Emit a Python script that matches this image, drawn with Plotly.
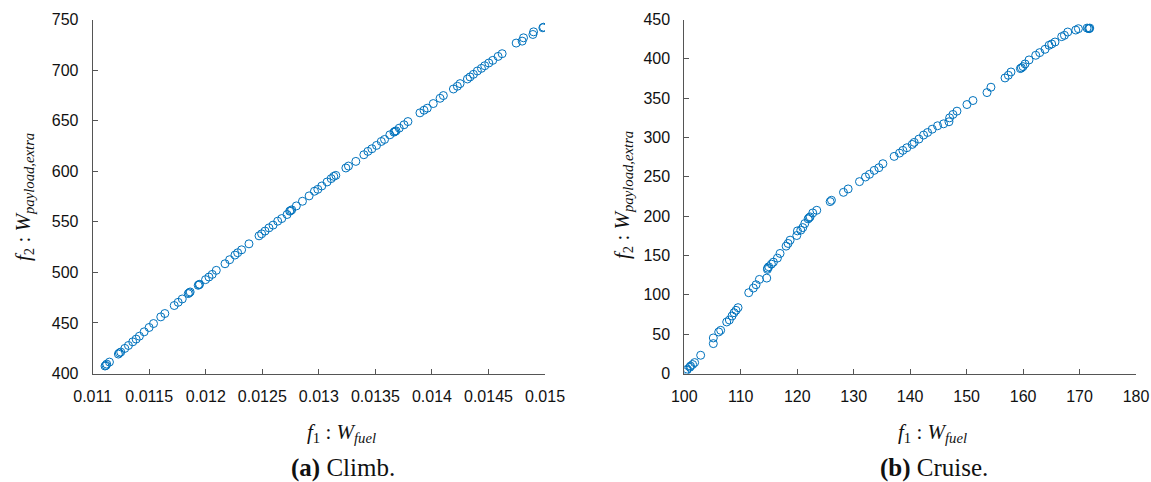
import plotly.graph_objects as go

# ---------------- data ----------------
climb_fuel = [
    0.011109, 0.011118, 0.011124, 0.011148, 0.011227, 0.011236, 0.011248, 0.011284,
    0.011316, 0.011354, 0.011384, 0.011413, 0.011455, 0.011499, 0.011538, 0.011602,
    0.011638, 0.011721, 0.011756, 0.011792, 0.011845, 0.011854, 0.011862, 0.011933,
    0.011940, 0.011945, 0.011998, 0.012028, 0.012057, 0.012093, 0.012170, 0.012211,
    0.012258, 0.012282, 0.012317, 0.012382, 0.012471, 0.012494, 0.012524, 0.012559,
    0.012595, 0.012636, 0.012672, 0.012719, 0.012742, 0.012750, 0.012760, 0.012801,
    0.012855, 0.012914, 0.012961, 0.012991, 0.013026, 0.013073, 0.013109, 0.013132,
    0.013150, 0.013239, 0.013262, 0.013327, 0.013398, 0.013434, 0.013469, 0.013510,
    0.013552, 0.013581, 0.013628, 0.013664, 0.013672, 0.013682, 0.013711, 0.013753,
    0.013788, 0.013894, 0.013930, 0.013959, 0.014012, 0.014072, 0.014101, 0.014190,
    0.014225, 0.014249, 0.014314, 0.014337, 0.014367, 0.014402, 0.014438, 0.014467,
    0.014503, 0.014538, 0.014585, 0.014621, 0.014745, 0.014798, 0.014810, 0.014893,
    0.014899, 0.014981, 0.014987,
]
climb_payload = [
    407.4, 408.0, 409.3, 411.3, 419.2, 420.3, 421.2, 424.8,
    427.7, 431.3, 434.0, 436.9, 441.2, 445.5, 449.4, 456.0,
    459.3, 467.2, 470.4, 473.7, 479.0, 479.8, 480.6, 487.2,
    487.8, 488.2, 492.8, 495.4, 498.0, 502.0, 508.5, 512.5,
    517.1, 519.4, 522.3, 528.2, 536.1, 538.1, 540.8, 544.0,
    546.7, 550.6, 553.2, 557.2, 560.5, 561.0, 561.8, 565.7,
    570.3, 575.6, 580.2, 582.1, 585.4, 589.4, 592.7, 594.9,
    595.9, 603.2, 605.1, 609.7, 616.3, 619.6, 622.2, 625.5,
    629.4, 631.4, 636.0, 638.6, 639.3, 639.9, 642.6, 645.9,
    649.1, 657.7, 660.3, 662.3, 666.9, 672.1, 674.8, 681.3,
    684.0, 686.6, 691.2, 693.2, 695.8, 699.1, 701.7, 704.3,
    707.0, 709.6, 713.5, 716.2, 726.7, 728.6, 731.9, 735.2,
    737.8, 741.8, 742.4,
]

cruise_fuel = [
    100.06, 100.45, 100.53, 101.00, 101.10, 101.48, 101.83, 102.90, 105.14, 105.14,
    106.09, 106.44, 107.51, 107.98, 108.45, 108.81, 109.16, 109.52, 111.41, 112.23,
    112.71, 113.30, 114.60, 114.72, 114.75, 114.95, 115.43, 115.78, 116.49, 116.96,
    118.03, 118.38, 118.74, 119.92, 120.04, 120.63, 120.98, 121.34, 121.93, 122.10,
    122.28, 122.75, 123.46, 125.83, 126.06, 128.19, 129.02, 131.03, 132.09, 132.80,
    133.63, 134.46, 135.17, 137.17, 138.12, 138.71, 139.42, 140.37, 140.72, 141.55,
    142.38, 143.09, 143.91, 144.86, 145.92, 146.87, 146.99, 147.58, 148.29, 150.06,
    151.12, 153.61, 154.31, 156.80, 157.39, 157.86, 159.52, 159.70, 159.99, 160.35,
    161.06, 162.24, 162.95, 163.89, 164.60, 165.07, 165.66, 166.84, 167.32, 167.91,
    169.33, 169.80, 171.34, 171.60, 171.69, 171.81,
]
cruise_payload = [
    1.3, 4.2, 5.5, 8.0, 9.5, 11.4, 13.9, 23.2, 38.0, 45.2,
    52.8, 54.9, 65.5, 68.0, 73.1, 77.3, 80.3, 83.7, 102.7, 108.6,
    112.8, 119.6, 121.3, 132.3, 134.0, 135.7, 139.0, 141.6, 146.7, 152.6,
    161.9, 165.3, 169.5, 175.4, 181.3, 182.2, 185.5, 190.6, 196.5, 198.0,
    199.1, 204.1, 207.5, 218.5, 220.2, 230.3, 234.6, 243.9, 249.8, 253.2,
    258.2, 261.6, 266.7, 276.0, 280.2, 283.6, 287.0, 291.2, 293.8, 298.0,
    303.1, 306.4, 310.6, 314.9, 317.4, 320.0, 325.0, 329.3, 333.5, 341.9,
    347.0, 357.1, 363.9, 375.7, 379.1, 383.3, 387.6, 388.5, 390.1, 393.5,
    398.6, 404.5, 407.9, 412.1, 417.2, 418.9, 421.4, 428.2, 429.9, 434.1,
    436.6, 438.3, 439.1, 438.6, 438.3, 439.1,
]

climb_xticks = [0.011, 0.0115, 0.012, 0.0125, 0.013, 0.0135, 0.014, 0.0145, 0.015]
climb_xticklabels = ["0.011", "0.0115", "0.012", "0.0125", "0.013", "0.0135", "0.014", "0.0145", "0.015"]
climb_yticks = [400, 450, 500, 550, 600, 650, 700, 750]
cruise_xticks = [100, 110, 120, 130, 140, 150, 160, 170, 180]
cruise_yticks = [0, 50, 100, 150, 200, 250, 300, 350, 400, 450]

# ---------------- figure ----------------
W, H = 1151, 482
BLUE = "#0072BD"
AXC = "#555555"
TICKFONT = dict(family="Liberation Sans, Arial, sans-serif", size=16, color="#111111")
SERIF = "Liberation Serif, Times New Roman, serif"

def px_x(p):
    return p / W

def px_y(p):
    return 1 - p / H

marker = dict(symbol="circle-open", size=8, color=BLUE, line=dict(width=1, color=BLUE))

fig = go.Figure()
fig.add_trace(go.Scatter(x=climb_fuel, y=climb_payload, mode="markers", marker=marker,
                         xaxis="x", yaxis="y", showlegend=False))
fig.add_trace(go.Scatter(x=cruise_fuel, y=cruise_payload, mode="markers", marker=marker,
                         xaxis="x2", yaxis="y2", showlegend=False))

common = dict(showgrid=False, zeroline=False, showline=True, linecolor=AXC, linewidth=1,
              ticks="inside", ticklen=5, tickcolor=AXC, tickwidth=1, tickfont=TICKFONT,
              mirror=False, automargin=False)

ydom = [px_y(373.5), px_y(19.5)]

fig.update_layout(
    width=W, height=H,
    margin=dict(l=0, r=0, t=0, b=0, pad=0),
    paper_bgcolor="white", plot_bgcolor="white",
    xaxis=dict(domain=[px_x(92.7), px_x(545.0)], range=[0.011, 0.015],
               tickvals=climb_xticks, ticktext=climb_xticklabels, anchor="y",
               ticklabelstandoff=8, **common),
    yaxis=dict(domain=ydom, range=[400, 750], tickvals=climb_yticks, anchor="x",
               ticklabelstandoff=10, **common),
    xaxis2=dict(domain=[px_x(684.3), px_x(1136.0)], range=[100, 180],
                tickvals=cruise_xticks, anchor="y2", ticklabelstandoff=8, **common),
    yaxis2=dict(domain=ydom, range=[0, 450], tickvals=cruise_yticks, anchor="x2",
                ticklabelstandoff=10, **common),
)

xtitle = "<i>f</i><sub>1</sub>&nbsp;:&nbsp;<i>W</i><sub><i>fuel</i></sub>"
ytitle = "<i>f</i><sub>2</sub>&nbsp;:&nbsp;<i>W</i><sub><i>payload,extra</i></sub>"
tfont = dict(family=SERIF, size=21, color="#111111")
cfont = dict(family=SERIF, size=25, color="#111111")

annots = [
    dict(text=xtitle, x=px_x(341), y=px_y(433), font=tfont),
    dict(text=xtitle, x=px_x(932), y=px_y(433), font=tfont),
    dict(text=ytitle, x=px_x(24), y=px_y(197), font=tfont, textangle=-90),
    dict(text=ytitle, x=px_x(623), y=px_y(195), font=tfont, textangle=-90),
    dict(text="<b>(a)</b> Climb.", x=px_x(343), y=px_y(468), font=cfont),
    dict(text="<b>(b)</b> Cruise.", x=px_x(934), y=px_y(468), font=cfont),
]
for a in annots:
    fig.add_annotation(xref="paper", yref="paper", showarrow=False,
                       xanchor="center", yanchor="middle", **a)

fig.write_html(
    "out.html",
    config={"displayModeBar": False},
    post_script="document.body.style.margin='0px';document.body.style.padding='0px';"
                "document.body.style.overflow='hidden';",
)
